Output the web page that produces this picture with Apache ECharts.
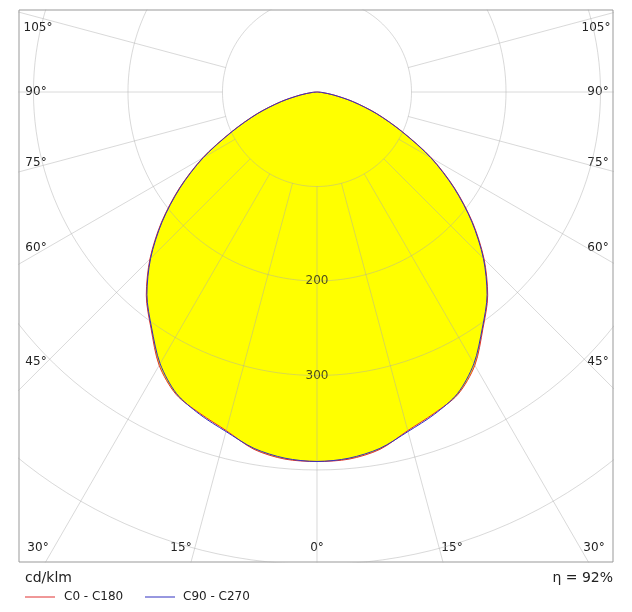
<!DOCTYPE html>
<html>
<head>
<meta charset="utf-8">
<script src="https://cdn.jsdelivr.net/npm/echarts@6/dist/echarts.min.js"></script>
<style>html,body{margin:0;padding:0;background:#fff}#c{width:632px;height:612px}</style>
</head>
<body>
<div id="c"></div>
<script>
// gamma angles (deg from nadir) and intensity cd/klm
const angles = [0, 5, 10, 15, 20, 25, 30, 35, 40, 45, 50, 55, 60, 65, 70, 75, 80, 85, 90];
const c0c180 = [391, 390, 384, 371, 362, 353, 334, 306, 281, 250, 215, 178, 140, 100, 68, 40, 18, 5, 0];
const c90c270 = [391, 389, 383, 372, 363, 352, 332, 305, 280, 249, 214, 177, 139, 99, 67, 39, 17, 5, 0];
const rings = [100, 200, 300, 400, 500];
const rays = [-105, -90, -75, -60, -45, -30, -15, 0, 15, 30, 45, 60, 75, 90, 105];
const ringLabels = ['200', '300'];

const toXY = (a, r) => [r * Math.sin(a * Math.PI / 180), -r * Math.cos(a * Math.PI / 180)];

// full curve: left half (C180 / C270 side) then right half
function curve(vals) {
  const pts = [];
  for (let i = angles.length - 1; i >= 0; i--) pts.push(toXY(-angles[i], vals[i]));
  for (let i = 1; i < angles.length; i++) pts.push(toXY(angles[i], vals[i]));
  return pts;
}
const redPts = curve(c0c180);
const bluePts = curve(c90c270);

const gridColor = 'rgba(170,170,170,0.45)';
const gridSeries = [];
rings.forEach(r => {
  const d = [];
  for (let a = 0; a <= 360; a += 2) d.push(toXY(a, r));
  gridSeries.push({ type: 'line', data: d, symbol: 'none', silent: true,
    lineStyle: { color: gridColor, width: 1 }, z: 6 });
});
rays.forEach(a => {
  gridSeries.push({ type: 'line', data: [toXY(a, 100), toXY(a, 800)], symbol: 'none', silent: true,
    lineStyle: { color: gridColor, width: 1 }, z: 6 });
});

const chart = echarts.init(document.getElementById('c'));
const font = 'DejaVu Sans';
const lbl = (x, y, t) => ({ type: 'text', x: x, y: y,
  style: { text: t, fill: '#222', font: '12px ' + font, align: 'center', verticalAlign: 'middle' } });

chart.setOption({
  animation: false,
  grid: { left: 19, top: 10, width: 594, height: 552, show: true, borderColor: '#999', borderWidth: 1 },
  xAxis: { type: 'value', min: -315.3, max: 313.2, show: false },
  yAxis: { type: 'value', min: -497.4, max: 86.8, show: false },
  series: gridSeries.concat([
    {
      type: 'custom', z: 3, silent: true,
      data: [0],
      renderItem: (params, api) => ({
        type: 'polygon',
        shape: { points: redPts.map(p => api.coord(p)), smooth: 0.3 },
        style: { fill: '#ffff00' }
      })
    },
    { type: 'line', data: redPts, symbol: 'none', smooth: 0.3, z: 7, lineStyle: { color: '#e03030', width: 1 } },
    { type: 'line', data: bluePts, symbol: 'none', smooth: 0.3, z: 8, lineStyle: { color: '#3030c0', width: 1 } },
    {
      type: 'scatter', symbolSize: 0, z: 9,
      data: ringLabels.map(t => ({ value: [0, -Number(t)], name: t })),
      label: { show: true, formatter: p => p.name, color: '#222', fontFamily: font, fontSize: 12, position: 'inside' }
    }
  ]),
  graphic: [
    lbl(38, 28, '105°'), lbl(36, 92, '90°'), lbl(36, 163, '75°'), lbl(36, 248, '60°'), lbl(36, 362, '45°'),
    lbl(596, 28, '105°'), lbl(598, 92, '90°'), lbl(598, 163, '75°'), lbl(598, 248, '60°'), lbl(598, 362, '45°'),
    lbl(38, 548, '30°'), lbl(181, 548, '15°'), lbl(317, 548, '0°'), lbl(452, 548, '15°'), lbl(594, 548, '30°'),
    { type: 'text', x: 25, y: 578, style: { text: 'cd/klm', fill: '#222', font: '14px ' + font, verticalAlign: 'middle' } },
    { type: 'text', x: 613, y: 578, style: { text: 'η = 92%', fill: '#222', font: '14px ' + font, align: 'right', verticalAlign: 'middle' } },
    { type: 'line', shape: { x1: 25, y1: 597, x2: 55, y2: 597 }, style: { stroke: '#e03030', lineWidth: 1 } },
    { type: 'text', x: 64, y: 597, style: { text: 'C0 - C180', fill: '#222', font: '12px ' + font, verticalAlign: 'middle' } },
    { type: 'line', shape: { x1: 145, y1: 597, x2: 175, y2: 597 }, style: { stroke: '#3030c0', lineWidth: 1 } },
    { type: 'text', x: 183, y: 597, style: { text: 'C90 - C270', fill: '#222', font: '12px ' + font, verticalAlign: 'middle' } }
  ]
});
</script>
</body>
</html>
